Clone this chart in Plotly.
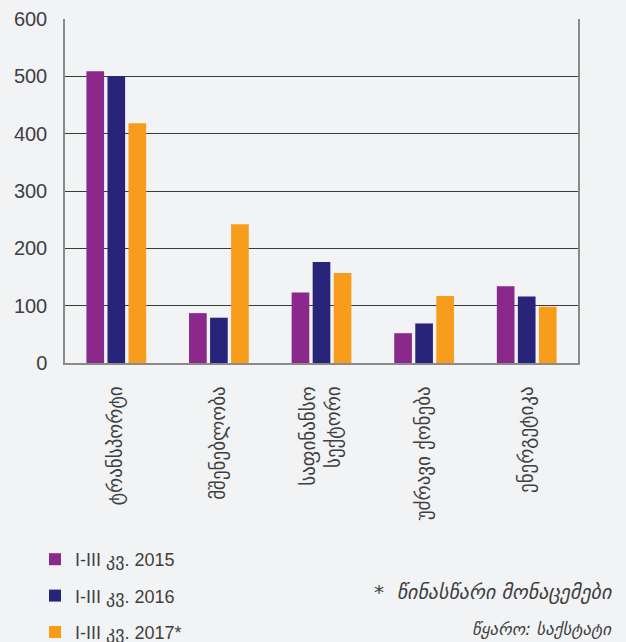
import plotly.graph_objects as go

categories = ["ტრანსპორტი", "მშენებლობა", "საფინანსო<br>სექტორი", "უძრავი ქონება", "ენერგეტიკა"]
series_names = ["I-III კვ. 2015", "I-III კვ. 2016", "I-III კვ. 2017*"]
values_2015 = [509, 87, 123, 52, 134]
values_2016 = [500, 79, 176, 69, 116]
values_2017 = [418, 242, 157, 117, 98]
colors = ["#8B288C", "#27247A", "#F89C1C"]
y_ticks = [0, 100, 200, 300, 400, 500, 600]

BG = "#F2F3F5"
TXT = "#3f3f3f"
NUM_FONT = "Liberation Sans, Arial, DejaVu Sans, sans-serif"
GEO_FONT = "DejaVu Sans, sans-serif"

fig = go.Figure()
for i, (name, vals) in enumerate(zip(series_names, [values_2015, values_2016, values_2017])):
    fig.add_trace(go.Bar(
        x=categories, y=vals, name=name,
        marker=dict(color=colors[i], line=dict(width=0)),
        legendgroup=f"g{i}",
    ))

fig.update_layout(
    width=626, height=642,
    margin=dict(l=65, r=48, t=19, b=279, autoexpand=False),
    paper_bgcolor=BG, plot_bgcolor=BG,
    barmode="group", bargap=0.385, bargroupgap=0.16,
    font=dict(family=NUM_FONT, color=TXT, size=18),
    showlegend=True,
    legend=dict(
        x=35 / 626, y=1 - 541 / 642, xref="container", yref="container",
        xanchor="left", yanchor="top",
        bgcolor="rgba(0,0,0,0)",
        font=dict(family=NUM_FONT, size=18, color=TXT),
        tracegroupgap=10,
        itemwidth=30,
    ),
    annotations=[
        dict(text="*  <i>წინასწარი მონაცემები</i>", xref="paper", yref="paper",
             x=(615 - 65) / 513, y=(363 - 592) / 344, xanchor="right", yanchor="middle",
             showarrow=False, font=dict(family=GEO_FONT, size=20, color=TXT)),
        dict(text="<i>წყარო: საქსტატი</i>", xref="paper", yref="paper",
             x=(614 - 65) / 513, y=(363 - 629) / 344, xanchor="right", yanchor="middle",
             showarrow=False, font=dict(family=GEO_FONT, size=17, color=TXT)),
    ],
)

fig.update_yaxes(
    range=[0, 600], tickvals=y_ticks, ticktext=[str(v) for v in y_ticks],
    showgrid=True, gridcolor="#3a3a3a", gridwidth=1,
    zeroline=False, showline=True, linecolor="#8a8a8a", linewidth=1.5, mirror=True,
    ticks="", ticklabelstandoff=12,
    tickfont=dict(family=NUM_FONT, size=20, color=TXT),
)
fig.update_xaxes(
    showline=True, linecolor="#8a8a8a", linewidth=1.5, mirror=False,
    tickangle=-90, ticks="", ticklabelstandoff=14,
    tickfont=dict(family=GEO_FONT, size=19, color=TXT),
)

fig.write_html("out.html", config={"displayModeBar": False},
               post_script="document.body.style.margin='0';")
